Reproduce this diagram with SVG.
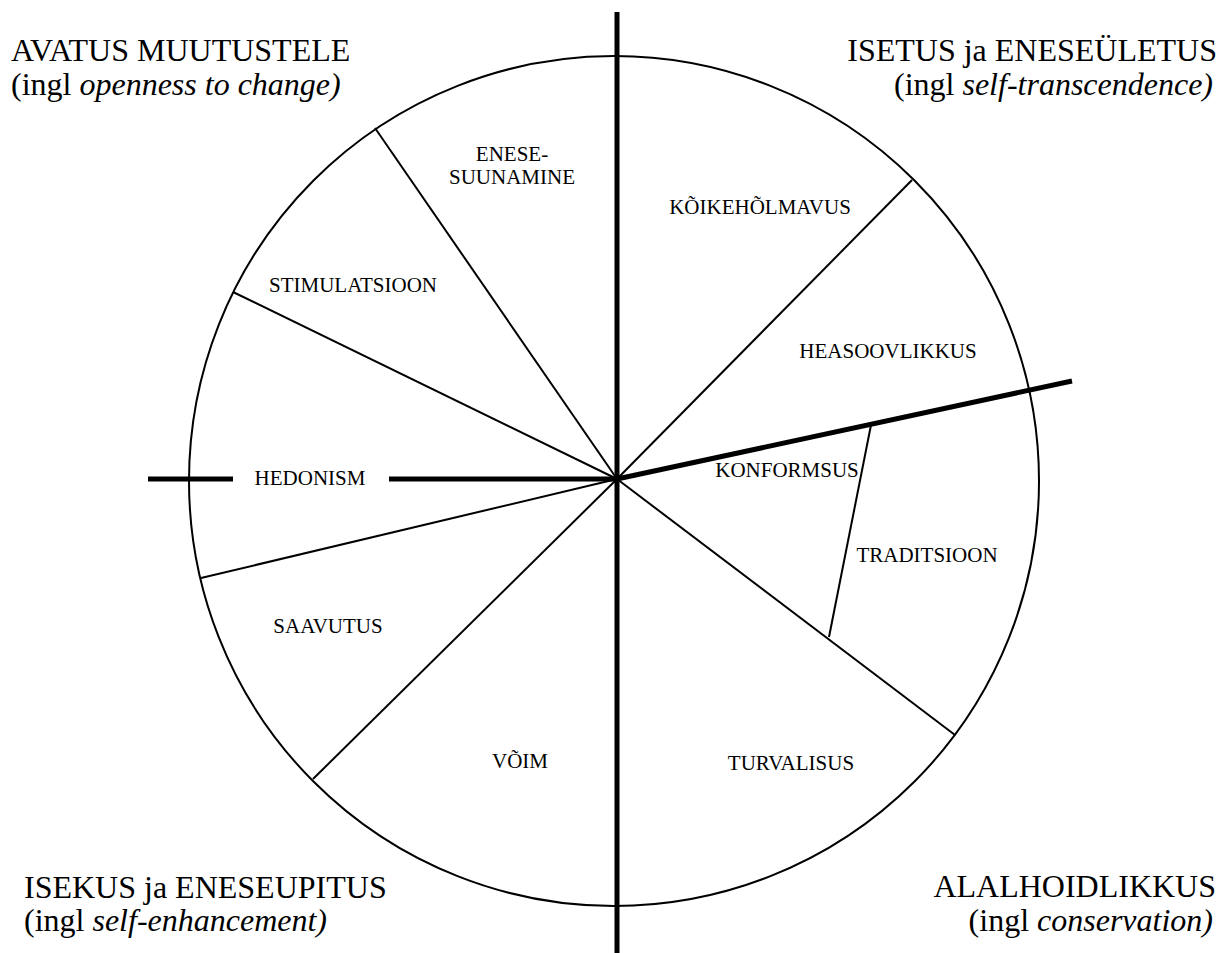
<svg xmlns="http://www.w3.org/2000/svg" width="1223" height="953" viewBox="0 0 1223 953">
<style>
text{font-family:'Liberation Serif','DejaVu Serif',serif;fill:#000}
.title{font-size:32px}
.lbl{font-size:21px;text-anchor:middle}
.thin{stroke:#000;stroke-width:2;fill:none}
.thick{stroke:#000;stroke-width:5;fill:none}
</style>
<rect width="1223" height="953" fill="#fff"/>
<g id="circle">
<circle cx="614" cy="481" r="425" class="thin"/>
</g>
<g id="connectors">
<line x1="617" y1="479" x2="375" y2="128" class="thin"/>
<line x1="617" y1="479" x2="233" y2="292" class="thin"/>
<line x1="617" y1="479" x2="201" y2="578" class="thin"/>
<line x1="617" y1="479" x2="313" y2="779" class="thin"/>
<line x1="617" y1="479" x2="912" y2="180" class="thin"/>
<line x1="617" y1="479" x2="955" y2="735" class="thin"/>
<line x1="871" y1="425" x2="829" y2="637" class="thin"/>
<line x1="617" y1="12" x2="617" y2="953" class="thick"/>
<line x1="148" y1="479" x2="233" y2="479" class="thick"/>
<line x1="389" y1="479" x2="617" y2="479" class="thick"/>
<line x1="617" y1="479" x2="1072" y2="381" class="thick"/>
</g>
<g id="title-tl">
<text class="title" x="11" y="61">AVATUS MUUTUSTELE</text>
<text class="title" x="11" y="95">(ingl <tspan font-style="italic">openness to change)</tspan></text>
</g>
<g id="title-tr">
<text class="title" x="1217" y="61" text-anchor="end">ISETUS ja ENESEÜLETUS</text>
<text class="title" x="1213" y="95" text-anchor="end">(ingl <tspan font-style="italic">self-transcendence)</tspan></text>
</g>
<g id="title-bl">
<text class="title" x="24" y="898">ISEKUS ja ENESEUPITUS</text>
<text class="title" x="24" y="931">(ingl <tspan font-style="italic">self-enhancement)</tspan></text>
</g>
<g id="title-br">
<text class="title" x="1216" y="897" text-anchor="end">ALALHOIDLIKKUS</text>
<text class="title" x="1213" y="931" text-anchor="end">(ingl <tspan font-style="italic">conservation)</tspan></text>
</g>
<g id="enesesuunamine"><text class="lbl" x="512" y="161">ENESE-</text><text class="lbl" x="512" y="184">SUUNAMINE</text></g>
<g id="koikeholmavus"><text class="lbl" x="760" y="214">KÕIKEHÕLMAVUS</text></g>
<g id="stimulatsioon"><text class="lbl" x="353" y="292">STIMULATSIOON</text></g>
<g id="heasoovlikkus"><text class="lbl" x="888" y="358">HEASOOVLIKKUS</text></g>
<g id="hedonism"><text class="lbl" x="310" y="485">HEDONISM</text></g>
<g id="konformsus"><text class="lbl" x="787" y="477">KONFORMSUS</text></g>
<g id="traditsioon"><text class="lbl" x="927" y="562">TRADITSIOON</text></g>
<g id="saavutus"><text class="lbl" x="328" y="633">SAAVUTUS</text></g>
<g id="voim"><text class="lbl" x="520" y="768">VÕIM</text></g>
<g id="turvalisus"><text class="lbl" x="791" y="770">TURVALISUS</text></g>
</svg>
